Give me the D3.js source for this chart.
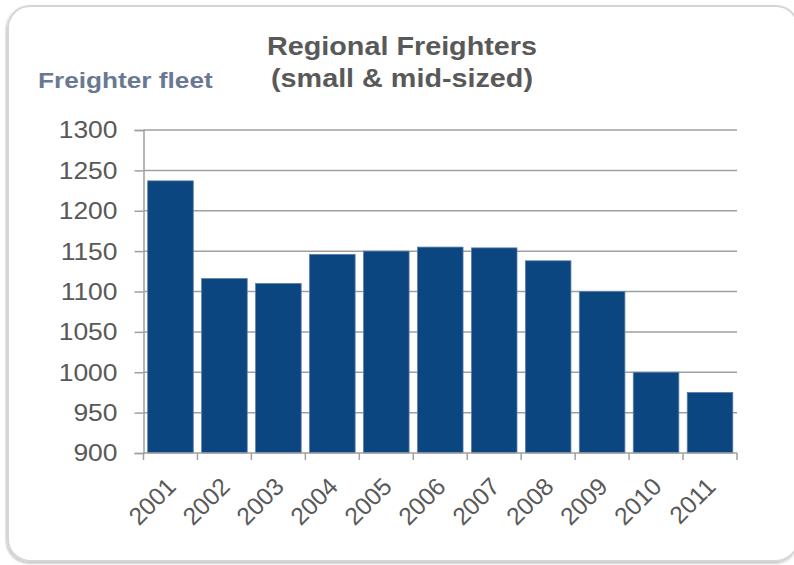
<!DOCTYPE html>
<html>
<head>
<meta charset="utf-8">
<script src="https://cdn.jsdelivr.net/npm/d3@7"></script>
<style>
  html, body { margin: 0; padding: 0; background: #ffffff; }
  svg { display: block; }
  text { font-family: "Liberation Sans", Arial, sans-serif; }
</style>
</head>
<body>
<svg id="chart" width="794" height="565"></svg>
<script>
// Regional freighter fleet size by year
const years = ["2001", "2002", "2003", "2004", "2005", "2006", "2007", "2008", "2009", "2010", "2011"];
const fleet = [1237, 1116, 1110, 1146, 1150, 1155, 1154, 1138, 1100, 1000, 975];
const yTicks = [900, 950, 1000, 1050, 1100, 1150, 1200, 1250, 1300];
const titleLines = ["Regional Freighters", "(small & mid-sized)"];
const axisTitle = "Freighter fleet";

const svg = d3.select("#chart");
const textStretch = 1.15;

// rounded frame with a soft shadow
const defs = svg.append("defs");
const shadow = defs.append("filter").attr("id", "frameShadow")
  .attr("x", "-5%").attr("y", "-5%").attr("width", "110%").attr("height", "110%");
shadow.append("feDropShadow")
  .attr("dx", -1).attr("dy", 1.5).attr("stdDeviation", 1.2)
  .attr("flood-color", "#000").attr("flood-opacity", 0.25);

svg.append("rect")
  .attr("x", 8).attr("y", 6).attr("width", 790).attr("height", 555)
  .attr("rx", 22).attr("ry", 22)
  .attr("fill", "#ffffff").attr("stroke", "#d6d6d6").attr("stroke-width", 2)
  .attr("filter", "url(#frameShadow)");

const plot = { left: 143.5, right: 737, top: 130, bottom: 453 };

const x = d3.scaleBand()
  .domain(years)
  .range([plot.left, plot.right])
  .paddingInner(0.155)
  .paddingOuter(0.0775);

const y = d3.scaleLinear()
  .domain([900, 1300])
  .range([plot.bottom, plot.top]);

// horizontal gridlines
svg.append("g")
  .selectAll("line")
  .data(yTicks.filter(v => v !== 900))
  .join("line")
  .attr("x1", plot.left).attr("x2", plot.right)
  .attr("y1", d => y(d)).attr("y2", d => y(d))
  .attr("stroke", "#a0a0a0").attr("stroke-width", 1.5);

// bars
svg.append("g")
  .selectAll("rect")
  .data(years.map((yr, i) => ({ yr, v: fleet[i] })))
  .join("rect")
  .attr("x", d => x(d.yr))
  .attr("y", d => y(d.v))
  .attr("width", x.bandwidth())
  .attr("height", d => y(900) - y(d.v))
  .attr("fill", "#0c4680")
  .attr("stroke", "#5a80ab")
  .attr("stroke-width", 0.8);

// y axis
const yAxis = svg.append("g")
  .attr("transform", `translate(${plot.left},0)`)
  .call(d3.axisLeft(y).tickValues(yTicks).tickSize(9).tickPadding(0).tickFormat(d3.format("d")));
yAxis.select(".domain").attr("stroke", "#a0a0a0").attr("stroke-width", 1.5);
yAxis.selectAll(".tick line").attr("stroke", "#a0a0a0").attr("stroke-width", 1.5);
yAxis.selectAll(".tick text")
  .attr("x", null).attr("dy", null)
  .attr("fill", "#595959")
  .attr("font-size", 23)
  .attr("text-anchor", "end")
  .attr("dominant-baseline", "central")
  .attr("transform", `translate(-26,0) scale(${textStretch},1)`);

// x axis with ticks on category boundaries
const xAxisG = svg.append("g").attr("transform", `translate(0,${plot.bottom})`);
xAxisG.append("line")
  .attr("x1", plot.left).attr("x2", plot.right)
  .attr("stroke", "#a0a0a0").attr("stroke-width", 1.5);
const boundaries = years.map(yr => x(yr) - x.step() * x.paddingInner() / 2).concat([plot.right]);
xAxisG.selectAll("line.tk")
  .data(boundaries)
  .join("line")
  .attr("class", "tk")
  .attr("x1", d => d).attr("x2", d => d)
  .attr("y1", 0).attr("y2", 7)
  .attr("stroke", "#a0a0a0").attr("stroke-width", 1.5);
xAxisG.selectAll("text")
  .data(years)
  .join("text")
  .attr("transform", d => `translate(${x(d) + x.bandwidth() / 2 + 7},35) rotate(-45)`)
  .attr("text-anchor", "end")
  .attr("fill", "#595959")
  .attr("font-size", 24.5)
  .text(d => d);

// chart title
const title = svg.append("text")
  .attr("text-anchor", "middle")
  .attr("font-weight", "bold")
  .attr("font-size", 25)
  .attr("fill", "#595959")
  .attr("transform", `translate(402,0) scale(${textStretch},1)`);
title.selectAll("tspan")
  .data(titleLines)
  .join("tspan")
  .attr("x", 0)
  .attr("y", (d, i) => 55 + i * 32)
  .text(d => d);

// value axis caption
svg.append("text")
  .attr("transform", `translate(38,88) scale(${textStretch},1)`)
  .attr("font-weight", "bold")
  .attr("font-size", 22.8)
  .attr("fill", "#6a7993")
  .text(axisTitle);
</script>
</body>
</html>
